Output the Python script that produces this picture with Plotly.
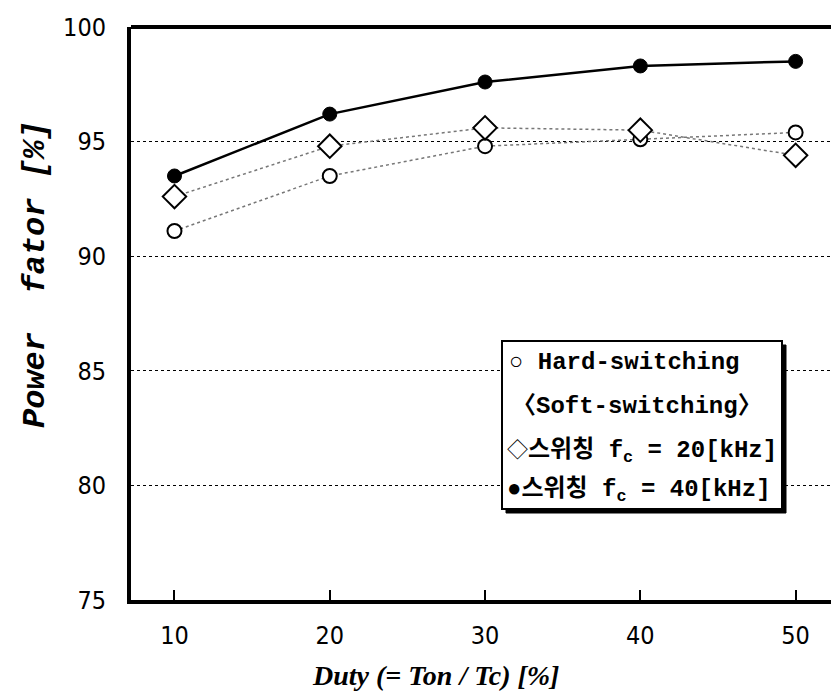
import plotly.graph_objects as go

duty = [10, 20, 30, 40, 50]
hard_switching = [91.1, 93.5, 94.8, 95.1, 95.4]
soft_20khz = [92.6, 94.8, 95.6, 95.5, 94.4]
soft_40khz = [93.5, 96.2, 97.6, 98.3, 98.5]
y_ticks = [75, 80, 85, 90, 95, 100]
x_ticks = [10, 20, 30, 40, 50]

# page body has an 8px margin; plot area wanted at x 131..836, y 27..600 in window
OFF = 8
W, H = 831, 689
L, R, T, B = 123, 3, 19, 97
PW, PH = W - L - R, H - T - B

def px(x):
    return (x - OFF - L) / PW

def py(y):
    return (H - B + OFF - y) / PH

fig = go.Figure()
fig.add_trace(go.Scatter(x=duty, y=hard_switching, mode="lines+markers",
                         line=dict(color="#777", width=1.5, dash="dot"),
                         marker=dict(symbol="circle", size=14, color="white",
                                     line=dict(color="black", width=2)),
                         name="Hard-switching"))
fig.add_trace(go.Scatter(x=duty, y=soft_20khz, mode="lines+markers",
                         line=dict(color="#777", width=1.5, dash="dot"),
                         marker=dict(symbol="diamond", size=18, color="white",
                                     line=dict(color="black", width=2)),
                         name="20kHz"))
fig.add_trace(go.Scatter(x=duty, y=soft_40khz, mode="lines+markers",
                         line=dict(color="black", width=2.5),
                         marker=dict(symbol="circle", size=14, color="black",
                                     line=dict(color="black", width=1)),
                         name="40kHz"))

tick_font = dict(family="DejaVu Sans Condensed, DejaVu Sans", size=25, color="black")
fig.update_layout(
    width=W, height=H,
    margin=dict(l=L, r=R, t=T, b=B, autoexpand=False),
    paper_bgcolor="white", plot_bgcolor="white",
    showlegend=False,
    xaxis=dict(range=[7.2, 52.6], tickvals=x_ticks, ticktext=[str(v) for v in x_ticks],
               ticks="inside", ticklen=10, tickwidth=2, tickcolor="black",
               showline=True, linecolor="black", linewidth=4,
               showgrid=False, zeroline=False, tickfont=tick_font,
               ticklabelstandoff=10, automargin=False),
    yaxis=dict(range=[75, 100], tickvals=y_ticks, ticktext=[str(v) for v in y_ticks],
               showline=True, linecolor="black", linewidth=4,
               showgrid=True, gridcolor="black", griddash="dot", gridwidth=1,
               zeroline=False, tickfont=tick_font, ticks="",
               ticklabelstandoff=16, automargin=False),
)

# axis titles
fig.add_annotation(text="<b><i>Duty (= Ton / Tc) [%]</i></b>", xref="paper", yref="paper",
                   x=px(435), y=py(675), xanchor="center", yanchor="middle", showarrow=False,
                   font=dict(family="Liberation Serif", size=28, color="black"))
fig.add_annotation(text="<b><i>Power  fator [%]</i></b>", xref="paper", yref="paper",
                   x=px(35), y=py(275), xanchor="center", yanchor="middle", showarrow=False,
                   textangle=-90,
                   font=dict(family="Liberation Mono", size=32, color="black"))

# frame top/right
fig.add_shape(type="line", xref="paper", yref="paper", x0=0, x1=1, y0=1, y1=1,
              line=dict(color="black", width=4))
fig.add_shape(type="line", xref="paper", yref="paper", x0=1, x1=1, y0=0, y1=1,
              line=dict(color="black", width=2))

# legend box with shadow
bx0, bx1, by0, by1 = 502, 782, 341, 509
fig.add_shape(type="rect", xref="paper", yref="paper",
              x0=px(bx0 + 4), x1=px(bx1 + 4), y0=py(by1 + 4), y1=py(by0 + 4),
              fillcolor="black", line=dict(color="black", width=1), layer="above")
fig.add_shape(type="rect", xref="paper", yref="paper",
              x0=px(bx0), x1=px(bx1), y0=py(by1), y1=py(by0),
              fillcolor="white", line=dict(color="black", width=2), layer="above")

leg_font = dict(family="Liberation Mono, Noto Sans CJK KR", size=24, color="black")
sym = "<span style='font-size:{}px'>{}</span>"
lines = [
    (sym.format(24, "○") + " <b>Hard-switching</b>", 507, 362),
    ("<b>〈Soft-switching〉</b>", 510, 406),
    (sym.format(21, "◇") + "<b>스위칭 f<sub>c</sub> = 20[kHz]</b>", 505, 451),
    (sym.format(24, "●") + "<b>스위칭 f<sub>c</sub> = 40[kHz]</b>", 505, 490),
]
for txt, x, y in lines:
    fig.add_annotation(text=txt, xref="paper", yref="paper", x=px(x), y=py(y),
                       xanchor="left", yanchor="middle", showarrow=False, font=leg_font)

fig.write_html("out.html")
